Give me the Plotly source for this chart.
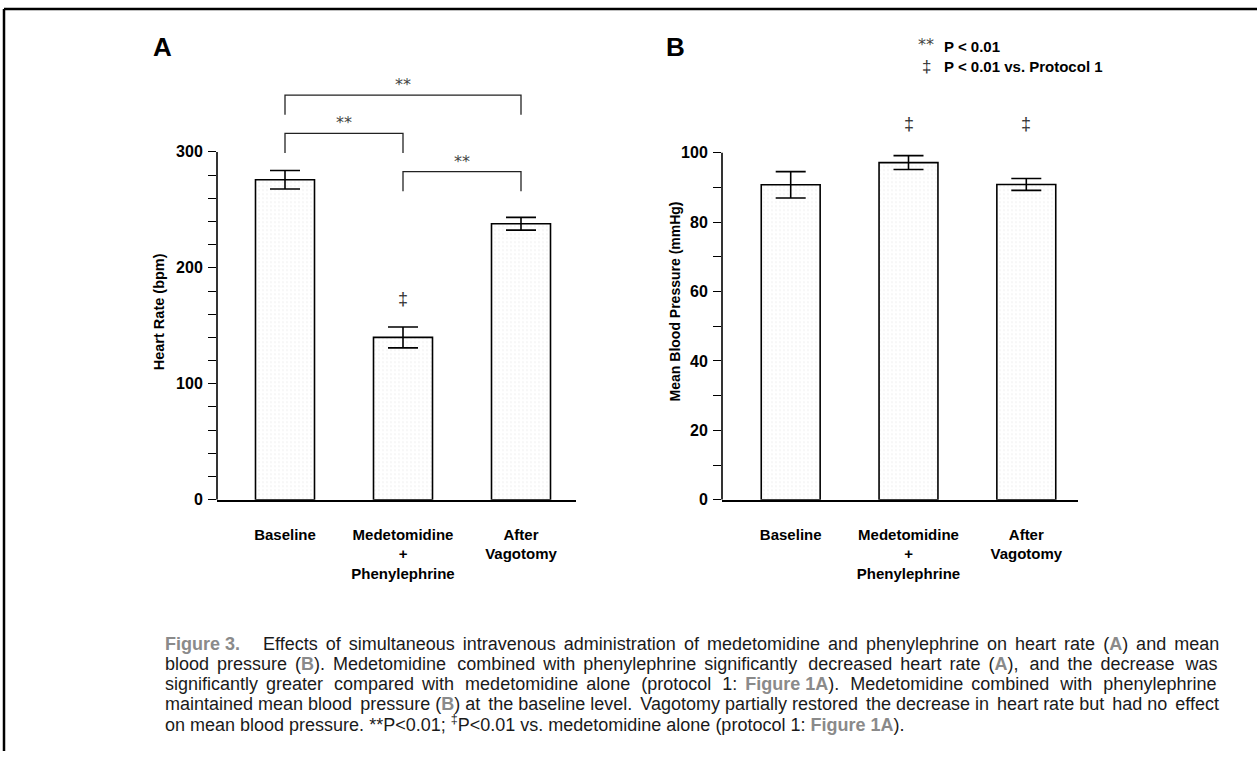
import plotly.graph_objects as go

W, H = 1257, 760

# ---- data -------------------------------------------------------------
categories = ["Baseline", "Medetomidine<br>+<br>Phenylephrine", "After<br>Vagotomy"]
hr_mean = [276, 140, 238]          # heart rate, bpm
hr_sem = [8, 9, 5.5]
mbp_mean = [90.8, 97.2, 90.9]      # mean blood pressure, mmHg
mbp_sem = [3.8, 2.0, 1.7]

hr_major = [0, 100, 200, 300]
hr_minor = list(range(0, 301, 20))
mbp_major = [0, 20, 40, 60, 80, 100]
mbp_minor = list(range(0, 101, 10))

# ---- helpers ----------------------------------------------------------
def px_x(p):
    return p / W


def px_y(p):
    return 1 - p / H


FONT = "Liberation Sans, Arial, Helvetica, sans-serif"
BAR_FILL = dict(shape=".", fgcolor="#d2d2d2", bgcolor="white", size=4, solidity=0.1)

fig = go.Figure()

fig.add_trace(go.Bar(
    x=categories, y=hr_mean, xaxis="x", yaxis="y", width=0.5,
    marker=dict(color="white", pattern=BAR_FILL, line=dict(color="black", width=1.6)),
    error_y=dict(type="data", array=hr_sem, visible=True, color="black", thickness=1.6, width=15),
    showlegend=False, hoverinfo="skip",
))
fig.add_trace(go.Bar(
    x=categories, y=mbp_mean, xaxis="x2", yaxis="y2", width=0.5,
    marker=dict(color="white", pattern=BAR_FILL, line=dict(color="black", width=1.6)),
    error_y=dict(type="data", array=mbp_sem, visible=True, color="black", thickness=1.6, width=15),
    showlegend=False, hoverinfo="skip",
))

# plot-area geometry (pixels)
A_LEFT, A_RIGHT = 217, 576
B_LEFT, B_RIGHT = 722, 1078
Y_BOTTOM, Y_TOP = 505.7, 36.7

tickfont = dict(family=FONT, size=16, color="black", weight="bold")
catfont = dict(family=FONT, size=15, color="black", weight="bold")

common_x = dict(
    type="category", showline=True, linecolor="black", linewidth=1.6,
    ticks="", showgrid=False, zeroline=False, tickfont=catfont,
    ticklabelstandoff=20, fixedrange=True,
)
common_y = dict(
    showline=False, ticks="outside", ticklen=8, tickwidth=1.4, tickcolor="black",
    showgrid=False, zeroline=False, tickfont=tickfont, fixedrange=True,
    ticklabelstandoff=2, tickmode="array",
)

fig.update_layout(
    width=W, height=H,
    margin=dict(l=0, r=0, t=0, b=0),
    paper_bgcolor="white", plot_bgcolor="rgba(0,0,0,0)",
    bargap=0.5,
    xaxis=dict(common_x, domain=[px_x(A_LEFT), px_x(A_RIGHT)],
               range=[(A_LEFT - 285) / 118, (A_RIGHT - 285) / 118], anchor="y"),
    yaxis=dict(common_y, domain=[px_y(Y_BOTTOM), px_y(Y_TOP)],
               range=[0, (Y_BOTTOM - Y_TOP) / 1.1733], anchor="x",
               tickvals=hr_major,
               minor=dict(tickmode="array", tickvals=hr_minor, ticks="outside",
                          ticklen=8, tickwidth=1.4, tickcolor="black", showgrid=False)),
    xaxis2=dict(common_x, domain=[px_x(B_LEFT), px_x(B_RIGHT)],
                range=[(B_LEFT - 790.7) / 117.8, (B_RIGHT - 790.7) / 117.8], anchor="y2"),
    yaxis2=dict(common_y, domain=[px_y(Y_BOTTOM), px_y(Y_TOP)],
                range=[0, (Y_BOTTOM - Y_TOP) / 3.51], anchor="x2",
                tickvals=mbp_major,
                minor=dict(tickmode="array", tickvals=mbp_minor, ticks="outside",
                           ticklen=8, tickwidth=1.4, tickcolor="black", showgrid=False)),
)

shapes = []
annotations = []

# y-axis spines, drawn only over the labelled span
shapes.append(dict(type="line", xref="paper", yref="y", x0=px_x(A_LEFT), x1=px_x(A_LEFT),
                   y0=0, y1=300, line=dict(color="black", width=1.6)))
shapes.append(dict(type="line", xref="paper", yref="y2", x0=px_x(B_LEFT), x1=px_x(B_LEFT),
                   y0=0, y1=100, line=dict(color="black", width=1.6)))

# significance brackets over the heart-rate bars: (from, to, bar level, leg end)
brackets = [(0, 2, 349, 332), (0, 1, 316, 299), (1, 2, 283, 266)]
for i0, i1, top, leg in brackets:
    shapes.append(dict(
        type="path", xref="x", yref="y",
        path=f"M {i0},{leg} L {i0},{top} L {i1},{top} L {i1},{leg}",
        line=dict(color="#222", width=1.3),
    ))
    annotations.append(dict(
        x=(i0 + i1) / 2, y=top, xref="x", yref="y", text="**",
        showarrow=False, yanchor="bottom", yshift=-1,
        font=dict(family="DejaVu Sans", size=16, color="#444"),
    ))

# dagger marks (vs. protocol 1)
annotations.append(dict(x=1, y=173, xref="x", yref="y", text="‡", showarrow=False,
                        yanchor="middle",
                        font=dict(family=FONT, size=18, color="#333")))
for i in (1, 2):
    annotations.append(dict(x=i, y=108.2, xref="x2", yref="y2", text="‡", showarrow=False,
                            yanchor="middle",
                            font=dict(family=FONT, size=18, color="#333")))

# axis titles
annotations.append(dict(x=px_x(159), y=px_y(316), xref="paper", yref="paper",
                        text="Heart Rate (bpm)", textangle=-90, showarrow=False,
                        xanchor="center", yanchor="middle",
                        font=dict(family=FONT, size=14.5, color="black", weight="bold")))
annotations.append(dict(x=px_x(675), y=px_y(305), xref="paper", yref="paper",
                        text="Mean Blood Pressure (mmHg)", textangle=-90, showarrow=False,
                        xanchor="center", yanchor="middle",
                        font=dict(family=FONT, size=14, color="black", weight="bold")))

# panel letters
for letter, xp in (("A", 162), ("B", 675)):
    annotations.append(dict(x=px_x(xp), y=px_y(48), xref="paper", yref="paper", text=letter,
                            showarrow=False, xanchor="center", yanchor="middle",
                            font=dict(family=FONT, size=26, color="black", weight="bold")))

# key
annotations.append(dict(x=px_x(936), y=px_y(45), xref="paper", yref="paper", text="**",
                        showarrow=False, xanchor="right", yanchor="middle",
                        font=dict(family="DejaVu Sans", size=16, color="#444")))
annotations.append(dict(x=px_x(926), y=px_y(67), xref="paper", yref="paper", text="‡",
                        showarrow=False, xanchor="center", yanchor="middle",
                        font=dict(family=FONT, size=17, color="#333")))
annotations.append(dict(x=px_x(942), y=px_y(47), xref="paper", yref="paper",
                        text="P &lt; 0.01", showarrow=False, xanchor="left", yanchor="middle",
                        font=dict(family=FONT, size=15, color="black", weight="bold")))
annotations.append(dict(x=px_x(942), y=px_y(67), xref="paper", yref="paper",
                        text="P &lt; 0.01 vs. Protocol 1", showarrow=False, xanchor="left",
                        yanchor="middle",
                        font=dict(family=FONT, size=15, color="black", weight="bold")))

# caption (justified by padding word gaps with six-per-em spaces)
G = "<span style='color:#8a8a8a'><b>{}</b></span>"


def justify(words, extra):
    gaps = len(words) - 1
    out = words[0]
    for i in range(gaps):
        n = (i + 1) * extra // gaps - i * extra // gaps
        out += " " + "\u2006" * n + words[i + 1]
    return out


caption_words = [
    ([G.format("Figure 3.") + "\u2003", "Effects", "of", "simultaneous", "intravenous",
      "administration", "of", "medetomidine", "and", "phenylephrine", "on", "heart", "rate",
      "(" + G.format("A") + ")", "and", "mean"], 14),
    (["blood", "pressure", "(" + G.format("B") + ").", "Medetomidine", "combined", "with",
      "phenylephrine", "significantly", "decreased", "heart", "rate", "(" + G.format("A") + "),",
      "and", "the", "decrease", "was"], 19),
    (["significantly", "greater", "compared", "with", "medetomidine", "alone", "(protocol",
      "1:", G.format("Figure 1A") + ").", "Medetomidine", "combined", "with", "phenylephrine"], 19),
    (["maintained", "mean", "blood", "pressure", "(" + G.format("B") + ")", "at", "the",
      "baseline", "level.", "Vagotomy", "partially", "restored", "the", "decrease", "in",
      "heart", "rate", "but", "had", "no", "effect"], 7),
    (["on", "mean", "blood", "pressure.", "**P&lt;0.01;", "<sup>‡</sup>P&lt;0.01", "vs.",
      "medetomidine", "alone", "(protocol", "1:", G.format("Figure 1A") + ")."], 0),
]
for k, (words, extra) in enumerate(caption_words):
    annotations.append(dict(x=px_x(163), y=px_y(652 + 20 * k), xref="paper", yref="paper",
                            text=justify(words, extra), showarrow=False,
                            xanchor="left", yanchor="middle",
                            font=dict(family=FONT, size=18, color="#1a1a1a")))

# page frame (top and left rules)
shapes.append(dict(type="line", xref="paper", yref="paper", x0=px_x(4), x1=1,
                   y0=px_y(9), y1=px_y(9), line=dict(color="black", width=2.5)))
shapes.append(dict(type="line", xref="paper", yref="paper", x0=px_x(4), x1=px_x(4),
                   y0=0, y1=px_y(9), line=dict(color="black", width=2.5)))

fig.update_layout(shapes=shapes, annotations=annotations)

fig.write_html("out.html")
